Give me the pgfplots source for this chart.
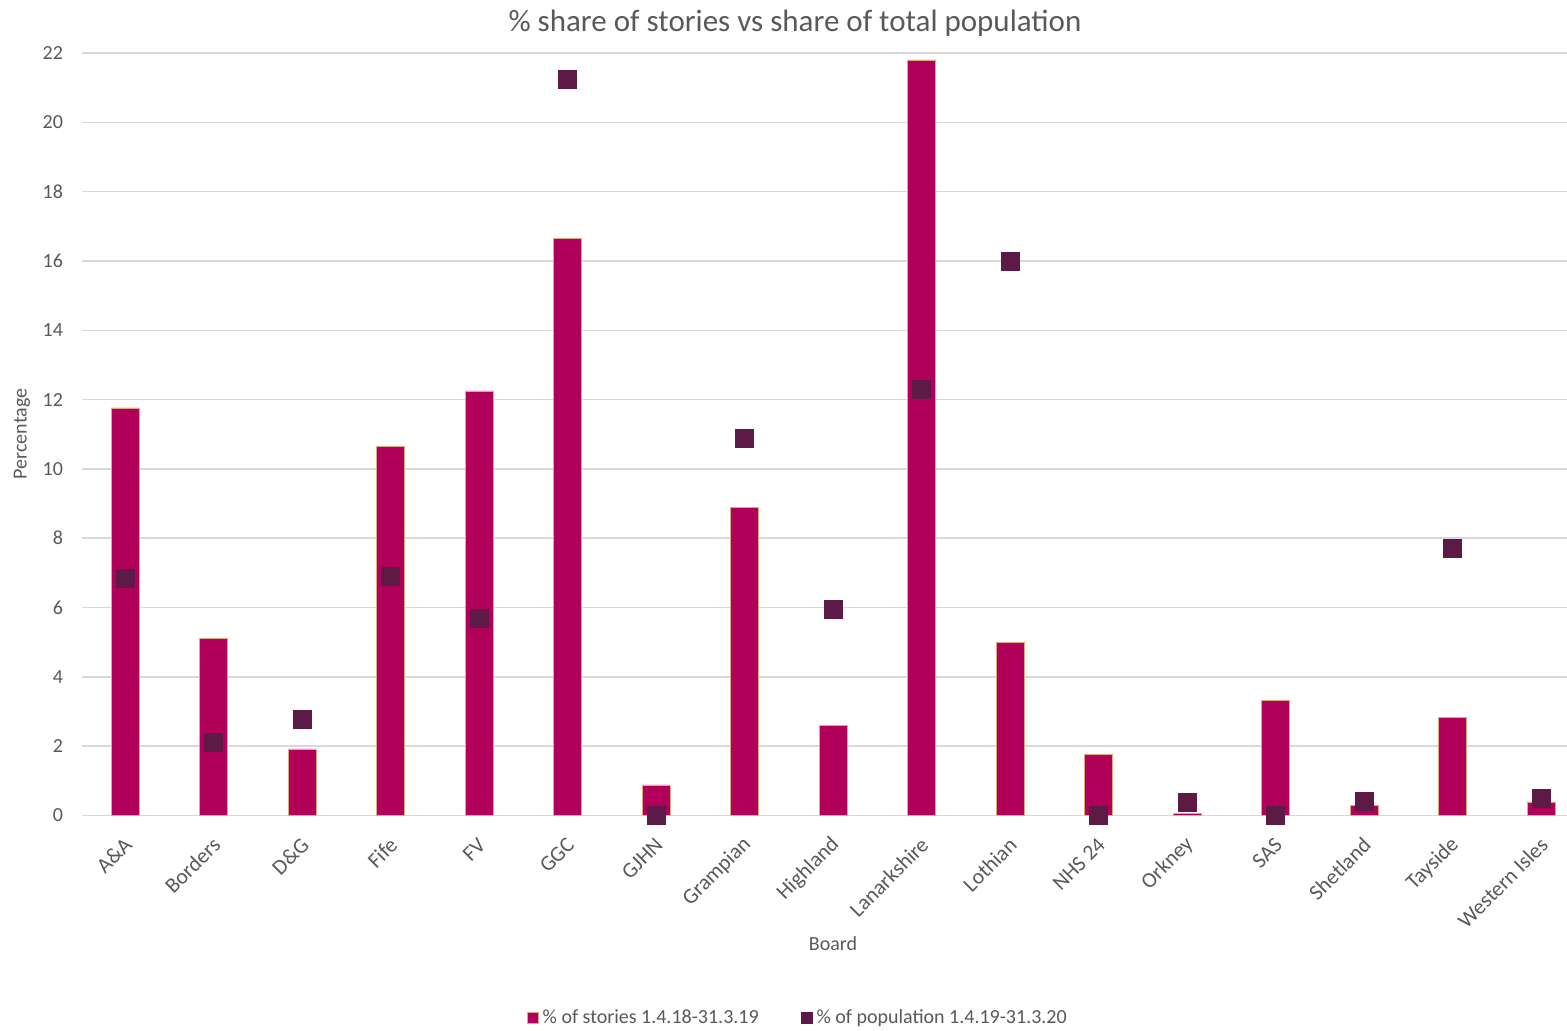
\documentclass[border=0pt]{standalone}
\usepackage{fontspec}
\setmainfont{Carlito}
\usepackage{pgfplots}
\pgfplotsset{compat=1.18}
\definecolor{barc}{RGB}{176,0,90}
\definecolor{markc}{RGB}{94,26,70}
\definecolor{edgec}{RGB}{222,170,130}
\definecolor{txt}{RGB}{89,89,89}
\definecolor{gridc}{RGB}{217,217,217}
\begin{document}
\begin{tikzpicture}
\begin{axis}[
  at={(0pt,0pt)}, anchor=south west,
  scale only axis, width=742.5pt, height=381.25pt,
  xmin=-0.486, xmax=16.294, ymin=0, ymax=22,
  ytick={0,2,...,22},
  xtick={0,...,16},
  xticklabels={A\&A,Borders,D\&G,Fife,FV,GGC,GJHN,Grampian,Highland,Lanarkshire,Lothian,NHS 24,Orkney,SAS,Shetland,Tayside,Western Isles},
  axis line style={draw=none},
  major tick length=0pt,
  ymajorgrids, grid style={gridc, line width=0.75pt},
  clip=false,
  /pgf/number format/assume math mode=true,
  tick label style={text=txt, font=\fontsize{10}{12}\selectfont},
  yticklabel style={anchor=east, xshift=-6pt},
  xticklabel style={xshift=4pt, yshift=-10.5pt, rotate=45, anchor=east, font=\fontsize{10.8}{12}\selectfont},
  legend columns=2,
  legend style={draw=none, at={(0.4828,-0.2656)}, anchor=center,
    font=\fontsize{10}{12}\selectfont, text=txt,
    /tikz/every even column/.append style={column sep=19pt}},
]
\addplot[ybar, bar width=14pt, fill=barc, draw=edgec, line width=0.4pt,
  legend image code/.code={\draw[fill=barc, draw=edgec, line width=0.3pt] (0pt,-2.75pt) rectangle (5.5pt,2.75pt);}]
  coordinates {(0,11.76) (1,5.12) (2,1.92) (3,10.66) (4,12.25) (5,16.66) (6,0.88) (7,8.90) (8,2.61) (9,21.80) (10,4.98) (11,1.75) (12,0.05) (13,3.33) (14,0.28) (15,2.84) (16,0.39)};
\addlegendentry{\% of stories 1.4.18-31.3.19}
\addplot[only marks, mark=square*, mark size=4.5pt, color=markc,
  legend image code/.code={\fill[markc] (0pt,-2.75pt) rectangle (5.5pt,2.75pt);}]
  coordinates {(0,6.85) (1,2.12) (2,2.76) (3,6.91) (4,5.70) (5,21.23) (6,0.0) (7,10.89) (8,5.96) (9,12.28) (10,16.0) (11,0.0) (12,0.39) (13,0.0) (14,0.42) (15,7.72) (16,0.48)};
\addlegendentry{\% of population 1.4.19-31.3.20}
\end{axis}
\node[text=txt, font=\fontsize{15.5}{18}\selectfont] at (356.5pt,396pt) {\% share of stories vs share of total population};
\node[rotate=90, text=txt, font=\fontsize{10}{12}\selectfont] at (-30pt,190.75pt) {Percentage};
\node[text=txt, font=\fontsize{10}{12}\selectfont] at (375.5pt,-64.25pt) {Board};
\pgfresetboundingbox
\path (-41pt,-107.75pt) rectangle (742.5pt,407.75pt);
\end{tikzpicture}
\end{document}
